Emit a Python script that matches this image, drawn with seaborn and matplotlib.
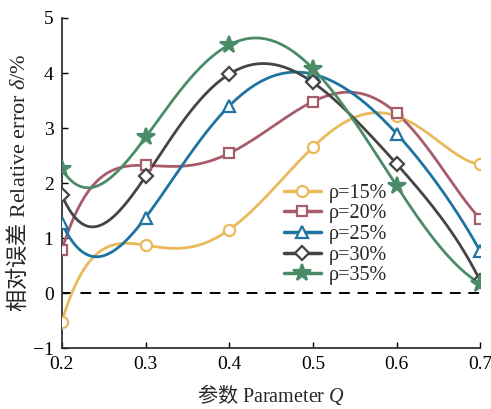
import numpy as np
import pandas as pd
import matplotlib
matplotlib.use("Agg")
import matplotlib.pyplot as plt
import seaborn as sns

# Parameter Q and relative error (%) for each rho
q_values = [0.2, 0.3, 0.4, 0.5, 0.6, 0.7]
err_15 = [-0.52, 0.87, 1.15, 2.65, 3.22, 2.34]
err_20 = [0.78, 2.32, 2.54, 3.48, 3.27, 1.35]
err_25 = [1.27, 1.37, 3.40, 3.98, 2.90, 0.76]
err_30 = [1.78, 2.12, 3.98, 3.83, 2.35, 0.22]
err_35 = [2.25, 2.83, 4.51, 4.08, 1.95, 0.17]
series_labels = ["ρ=15%", "ρ=20%", "ρ=25%", "ρ=30%", "ρ=35%"]
x_ticks = [0.2, 0.3, 0.4, 0.5, 0.6, 0.7]
y_ticks = [-1, 0, 1, 2, 3, 4, 5]

colors = ["#E9B95A", "#A85C6B", "#1E73A0", "#444444", "#4A8B68"]
markers = ["o", "s", "^", "D", "*"]
msizes = [8, 7, 9, 7, 13]


def smooth_curve(x, y, xs):
    """Interpolating polynomial through all points, evaluated at xs."""
    coef = np.polyfit(np.asarray(x) - 0.45, y, len(x) - 1)
    return np.polyval(coef, xs - 0.45)


sns.set_theme(style="ticks")
plt.rcParams["font.family"] = ["Liberation Serif", "Noto Sans CJK SC", "DejaVu Sans"]
plt.rcParams["mathtext.fontset"] = "custom"
plt.rcParams["mathtext.rm"] = "Noto Sans CJK SC"
plt.rcParams["mathtext.sf"] = "Liberation Serif"
plt.rcParams["mathtext.it"] = "Liberation Serif:italic"
plt.rcParams["axes.unicode_minus"] = True

fig = plt.figure(figsize=(4.91, 4.09), dpi=100)
ax = fig.add_axes([0.126, 0.149, 0.852, 0.807])

ax.axhline(0, color="black", lw=1.4, ls=(0, (5.5, 4)), zorder=1)

all_series = [err_15, err_20, err_25, err_30, err_35]
xs = np.linspace(q_values[0], q_values[-1], 300)
for vals, lab, c, m, ms in zip(all_series, series_labels, colors, markers, msizes):
    smooth = pd.DataFrame({"Q": xs, "err": smooth_curve(q_values, vals, xs)})
    pts = pd.DataFrame({"Q": q_values, "err": vals})
    sns.lineplot(data=smooth, x="Q", y="err", ax=ax, color=c, lw=2, zorder=2)
    face = c if m == "*" else "white"
    ax.plot(pts["Q"], pts["err"], ls="none", marker=m, ms=ms, mfc=face,
            mec=c, mew=1.6, zorder=3)
    ax.plot([], [], color=c, lw=2.5, marker=m, ms=ms, mfc=face, mec=c,
            mew=1.6, label=lab)

ax.set_xlim(0.2, 0.7)
ax.set_ylim(-1, 5)
ax.set_xticks(x_ticks)
ax.set_xticklabels([f"{v:.1f}" for v in x_ticks])
ax.set_yticks(y_ticks)
ax.set_yticklabels(["\u22121" if v < 0 else str(v) for v in y_ticks])
ax.tick_params(direction="in", length=4, width=1, labelsize=14, colors="black",
               pad=6)
for s in ["top", "right"]:
    ax.spines[s].set_visible(False)
for s in ["left", "bottom"]:
    ax.spines[s].set_color("#333333")
    ax.spines[s].set_linewidth(1.3)

ax.set_xlabel(r"$\mathrm{参数}\ \mathsf{Parameter}\ Q$", fontsize=14.5, labelpad=6)
ax.set_ylabel(r"$\mathrm{相对误差}\ \mathsf{Relative\ error}\ \delta\mathsf{/\%}$",
              fontsize=16, labelpad=2)

leg = ax.legend(loc="lower left", bbox_to_anchor=(0.498, 0.147), frameon=False,
                fontsize=14.5, handlelength=1.8, labelspacing=0.08,
                handletextpad=0.4, borderpad=0.2)

fig.savefig("out.png", dpi=100)
